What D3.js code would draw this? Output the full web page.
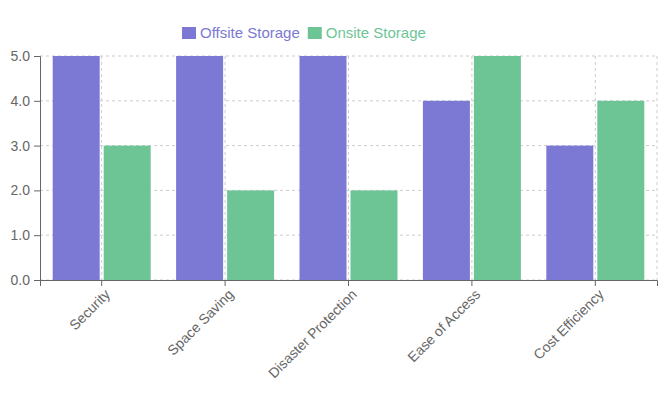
<!DOCTYPE html><html><head><meta charset="utf-8"><script src="https://cdn.jsdelivr.net/npm/d3@7"></script>
<style>body{margin:0;background:#fff;font-family:-apple-system,"Helvetica Neue",Arial,"Liberation Sans",sans-serif}</style></head><body><svg id="c" width="672" height="407"></svg><script>
const categories=["Security","Space Saving","Disaster Protection","Ease of Access","Cost Efficiency"];
const offsite=[5,5,5,4,3];
const onsite=[3,2,2,5,4];
const yTicks=[0,1,2,3,4,5];
const series=[{name:"Offsite Storage",values:offsite,color:"#7b79d4"},{name:"Onsite Storage",values:onsite,color:"#6dc596"}];
const svg=d3.select("#c");
const L=40,R=657,T=56,B=280;
const x=d3.scaleBand().domain(categories).range([L,R]);
const y=d3.scaleLinear().domain([0,5]).range([B,T]);
const g=svg.append("g");
g.selectAll(".hg").data(yTicks).join("line").attr("x1",L).attr("x2",R).attr("y1",d=>y(d)).attr("y2",d=>y(d)).attr("stroke","#ccc").attr("stroke-dasharray","3 3");
g.selectAll(".vg").data(categories).join("line").attr("x1",d=>x(d)+x.bandwidth()/2).attr("x2",d=>x(d)+x.bandwidth()/2).attr("y1",T).attr("y2",B).attr("stroke","#ccc").attr("stroke-dasharray","3 3");
g.append("line").attr("x1",R).attr("x2",R).attr("y1",T).attr("y2",B).attr("stroke","#ccc").attr("stroke-dasharray","3 3");
const bw=47,gap=4;
series.forEach((s,i)=>{
 g.selectAll(".b"+i).data(categories).join("rect").attr("x",d=>x(d)+x.bandwidth()/2+(i==0?-gap/2-bw:gap/2)).attr("width",bw)
 .attr("y",(d,j)=>y(s.values[j])).attr("height",(d,j)=>B-y(s.values[j])).attr("fill",s.color);
});
const ya=svg.append("g").attr("transform",`translate(${L},0)`).call(d3.axisLeft(y).tickValues(yTicks).tickSize(6).tickPadding(4));
const xa=svg.append("g").attr("transform",`translate(0,${B})`).call(d3.axisBottom(x).tickSize(6));
[ya,xa].forEach(a=>{a.select(".domain").attr("stroke","#666");a.selectAll(".tick line").attr("stroke","#666");a.selectAll("text").attr("fill","#666").attr("font-size",14).attr("font-family","inherit");});
xa.selectAll("text").attr("text-anchor","end").attr("transform","rotate(-45)").attr("dx","-0.3em").attr("dy","0.6em");
const lg=svg.append("g");
let lx=182;
series.forEach(s=>{
 lg.append("rect").attr("x",lx).attr("y",27).attr("width",14).attr("height",12).attr("fill",s.color);
 const t=lg.append("text").attr("x",lx+18).attr("y",38).attr("fill",s.color).attr("font-size",15).text(s.name);
 lx+=18+t.node().getComputedTextLength()+8;
});
</script></body></html>
